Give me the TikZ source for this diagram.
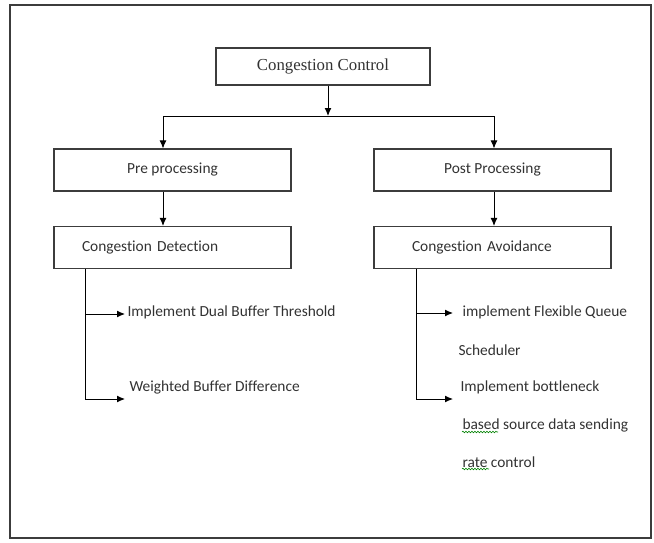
\documentclass[tikz,border=0pt]{standalone}
\usepackage{fontspec}
\setmainfont{Carlito}[Ligatures={NoCommon,NoContextual}]
\newfontfamily\serifpart{Liberation Serif}
\usetikzlibrary{arrows.meta,decorations.pathmorphing}
\definecolor{linegray}{RGB}{60,60,60}
\definecolor{inkgray}{RGB}{50,50,50}
\tikzset{
  blockbox/.style={draw=linegray, line width=1.1pt, minimum width=237pt,
    minimum height=42pt, inner sep=0pt, text=inkgray,
    font=\fontsize{15.4}{18}\selectfont},
  itemtext/.style={anchor=west, inner sep=0pt, text=inkgray,
    font=\fontsize{15.4}{18}\selectfont},
  squiggle/.style={draw=green!50!black, line width=0.6pt, decorate,
    decoration={snake, amplitude=0.8pt, segment length=3pt}}
}
\begin{document}
\begin{tikzpicture}[x=1pt,y=-1pt,>={Latex[length=8pt,width=7pt]},line width=1pt]
    \useasboundingbox (0,0) rectangle (654,542);
    \draw[linegray, line width=1.3pt] (10,5) rectangle (651,538);
    % boxes
    \node[blockbox, minimum width=214pt, minimum height=37pt,
      font=\serifpart\fontsize{16.8}{20}\selectfont] (ctrl) at (323,66.5) {Congestion Control};
    \node[blockbox] (pre) at (172.5,170) {Pre processing};
    \node[blockbox] (post) at (492.5,170) {Post Processing};
    \node[blockbox, inner xsep=28pt, text width=181pt, align=left] (detect) at (172.5,247.5) {Congestion Detection};
    \node[blockbox, inner xsep=38pt, text width=161pt, align=left] (avoid) at (492.5,247.5) {Congestion Avoidance};
    % branch under the top box
    \coordinate (split) at (328,116);
    \coordinate (lsplit) at (163,116);
    \coordinate (rsplit) at (494,116);
    \draw[->] (ctrl.south -| split) -- (split);
    \draw[->] (split) -- (lsplit) -- (lsplit |- pre.north);
    \draw[->] (split) -- (rsplit) -- (rsplit |- post.north);
    \draw[->] (pre.south -| lsplit) -- (lsplit |- detect.north);
    \draw[->] (post.south -| rsplit) -- (rsplit |- avoid.north);
    % items, left
    \node[itemtext] (dual) at (127,312) {Implement Dual Buffer Threshold};
    \node[itemtext] (weight) at (129,387) {Weighted Buffer Difference};
    \coordinate (lbend1) at (85,314);
    \coordinate (lbend2) at (85,399);
    \coordinate (ltip1) at (125,314);
    \coordinate (ltip2) at (125,399);
    \draw[->] (detect.south -| lbend1) -- (lbend2) -- (ltip2);
    \draw[->] (lbend1) -- (ltip1);
    % items, right
    \node[itemtext] (flex) at (462,312) {implement Flexible Queue};
    \node[itemtext] (sched) at (458,350) {Scheduler};
    \node[itemtext] (bneck) at (460,387) {Implement bottleneck};
    \node[itemtext] (based) at (462,425) {based source data sending};
    \node[itemtext] (rate) at (462,462) {rate control};
    \coordinate (rbend1) at (416,313);
    \coordinate (rbend2) at (416,399);
    \coordinate (rtip1) at (453,313);
    \coordinate (rtip2) at (453,399);
    \draw[->] (avoid.south -| rbend1) -- (rbend2) -- (rtip2);
    \draw[->] (rbend1) -- (rtip1);
    % spell check marks
    \draw[squiggle] (462,432) -- (498,432);
    \draw[squiggle] (462,469) -- (489,469);
\end{tikzpicture}
\end{document}
